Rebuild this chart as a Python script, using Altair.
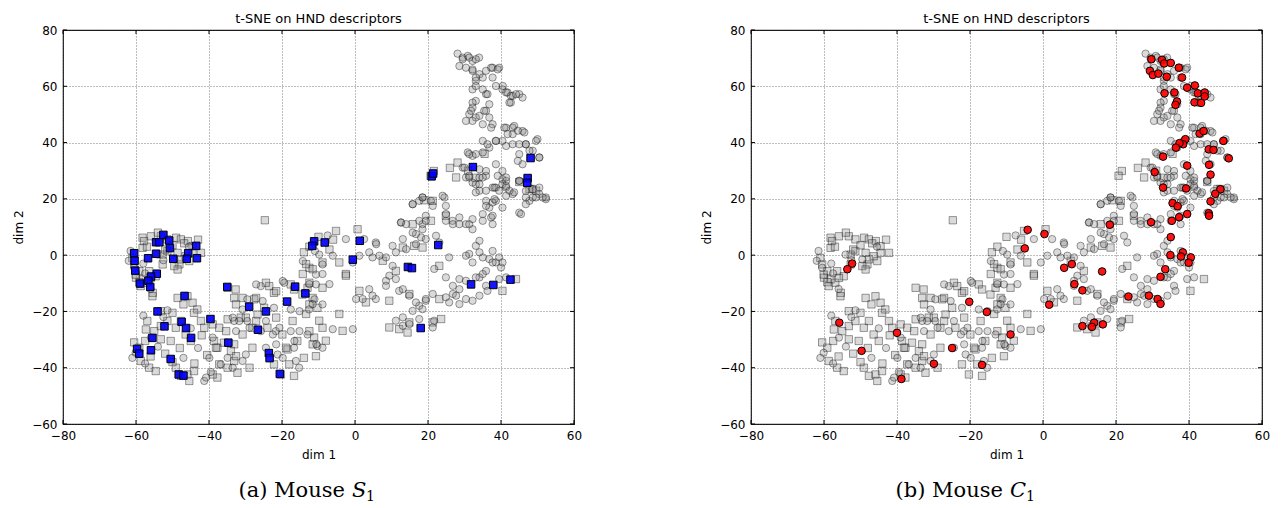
import altair as alt
import pandas as pd

x_ticks = [-80, -60, -40, -20, 0, 20, 40, 60]
y_ticks = [-60, -40, -20, 0, 20, 40, 60, 80]
panel_title = "t-SNE on HND descriptors"

# background embedding points (grey), drawn as squares
bg_squares = [
    [-58.2,6.2],[-55.9,6.7],[-49.0,6.2],[-47.7,5.6],[-45.8,5.0],[-58.2,2.6],[-52.7,0.2],[-48.6,0.8],[-48.1,-3.3],
    [-52.7,-3.3],[-59.1,-5.7],[-58.2,-8.6],[-60.0,-8.0],[-55.4,-13.4],[-49.5,-3.9],[-44.5,0.8],[-57.8,5.0],[-53.2,6.7],
    [-51.4,5.6],[-46.8,4.2],[-44.5,3.2],[-42.2,0.8],[-61.0,-1.0],[-60.5,-3.3],[-60.1,-6.9],[-59.1,-9.6],[-58.7,-11.0],
    [-56.9,-9.8],[-55.5,-14.6],[-51.4,1.4],[-47.7,-1.5],[-45.4,-2.1],[-48.6,-5.1],[-46.4,-0.4],[-56.4,-5.7],[-54.6,-7.5],
    [-55.9,-8.1],[-57.0,3.0],[-50.0,3.5],[-43.0,5.5],[-54.0,8.0],[-52.0,2.0],
    [-48.6,-15.2],[-45.9,-14.6],[-44.5,-16.9],[-43.2,-19.3],[-44.1,-20.5],[-53.2,-19.9],[-56.9,-23.4],[-57.3,-26.4],
    [-55.0,-27.0],[-53.2,-25.2],[-51.4,-23.4],[-49.1,-25.8],[-47.7,-23.4],[-46.4,-28.2],[-45.0,-30.5],[-50.5,-30.5],
    [-53.2,-29.9],[-59.1,-32.9],[-58.7,-37.6],[-56.4,-40.0],[-54.6,-41.2],[-49.1,-40.0],[-47.7,-42.9],[-45.9,-42.4],
    [-44.1,-41.2],[-45.4,-44.7],[-37.7,-43.5],[-42.2,-23.4],[-41.3,-25.8],[-39.0,-24.6],[-38.6,-30.5],[-37.7,-32.9],
    [-35.9,-31.1],[-33.1,-31.7],[-34.0,-34.1],[-47.0,-17.5],[-50.0,-20.5],[-42.0,-28.5],[-52.0,-35.0],[-48.0,-33.0],
    [-57.5,-30.5],[-60.5,-31.0],[-56.0,-36.0],[-50.0,-38.0],[-44.0,-38.5],[-40.5,-35.5],
    [-34.9,-11.6],[-32.7,-12.2],[-33.1,-15.2],[-27.6,-15.7],[-23.5,-11.0],[-22.2,-13.4],[-17.6,-10.4],[-16.7,-12.2],
    [-14.4,-14.0],[-13.0,-11.6],[-11.6,-15.2],[-10.3,-18.7],[-24.9,-18.7],[-26.7,-21.1],[-31.3,-22.2],[-34.9,-22.8],
    [-28.1,-25.8],[-24.0,-25.8],[-19.9,-28.2],[-15.8,-30.5],[-11.2,-29.3],[-18.5,-33.5],[-22.2,-38.8],[-20.3,-42.4],
    [-16.7,-42.9],[-14.0,-36.5],[-10.7,-35.9],[-28.1,-32.9],[-33.1,-37.6],[-34.9,-40.0],[-32.2,-41.8],[-12.5,-4.5],
    [-12.5,-9.8],[-8.9,-11.6],[-12.5,-17.5],[-17.1,-23.4],[-12.5,-27.0],[-8.9,-25.8],[-11.6,-31.7],[-18.9,-32.9],
    [-18.0,-38.8],[-24.4,-9.8],[-21.6,-12.8],[-27.1,-15.2],[-30.8,-15.2],[-32.6,-17.5],[-29.9,-22.2],[-27.1,-23.4],
    [-21.6,-22.2],[-30.8,-28.2],[-35.3,-27.0],[-37.2,-25.8],[-38.1,-32.9],[-37.2,-38.8],[-32.6,-35.9],[-28.9,-40.0],
    [-39.0,-42.4],[-9.8,-23.3],[-4.3,-20.9],[-8.0,-30.4],[-3.4,-26.9],[-13.4,-20.9],[-14.3,-6.7],
    [-13.4,-3.2],[-8.9,-2.6],[-5.2,8.6],[0.7,9.2],[7.6,-2.0],[13.1,2.7],[16.2,3.3],[15.8,11.0],[20.8,12.2],[21.3,19.3],
    [24.9,14.0],[23.1,-3.8],[14.9,-13.8],[3.0,-16.8],[1.2,-12.7],[-2.5,-6.7],[18.5,2.7],[14.9,-23.9],[9.4,-25.7],
    [14.4,-27.5],[23.6,-22.7],[-2.5,-7.3],[-4.3,-2.6],[-11.6,-5.0],[11.2,-5.6],[9.4,-16.2],[21.3,-23.9],[12.1,-26.3],
    [44.1,-8.5],[40.4,-12.7],[23.1,-15.6],[-24.7,12.4],[-12.5,3.0],[-10.0,6.5],[-7.0,2.0],[-6.0,5.5],[-14.0,1.0],
    [28.1,32.9],[27.7,27.6],[33.0,27.5],[48.5,23.5],[45.0,26.0],[21.6,29.9],[20.7,28.2],[19.0,19.5],[47.8,23.5],
    [49.6,22.9],[35.5,36.0],[31.0,30.0],[26.0,31.0],
]

# background embedding points (grey), drawn as circles
bg_circles = [
    [-61.5,1.5],[-60.5,-4.5],[-57.5,-6.5],[-52.5,-1.8],[-54.1,0.2],[-49.5,-1.5],[-45.5,3.0],[-58.0,-3.0],[-62.0,-2.0],
    [-56.0,-12.0],
    [-51.4,-19.6],[-55.9,-29.3],[-60.1,-34.7],[-41.3,-44.7],[-58.0,-21.5],[-54.0,-32.5],[-47.0,-36.5],[-43.0,-33.0],
    [-61.0,-36.5],[-57.5,-38.5],[-39.5,-41.5],[-52.5,-22.0],[-45.0,-26.0],
    [-29.5,-15.7],[-30.8,-19.3],[-25.8,-11.0],[-19.4,-9.8],[-12.6,-19.3],[-17.6,-19.3],[-22.2,-18.7],[-29.5,-23.4],
    [-33.1,-23.4],[-25.8,-27.0],[-21.7,-27.0],[-17.6,-27.0],[-13.0,-28.2],[-16.7,-32.9],[-21.2,-35.3],[-15.3,-40.0],
    [-10.3,-32.3],[-29.9,-35.3],[-36.8,-38.8],[-14.3,-2.1],[-10.7,-6.9],[-8.9,-3.3],[-9.8,0.2],[-10.7,-10.4],
    [-11.1,-15.7],[-8.9,-17.5],[-15.2,-19.9],[-15.2,-27.0],[-8.9,-32.9],[-16.6,-30.5],[-19.8,-36.5],[-16.2,-37.6],
    [-21.6,-31.7],[-24.4,-32.9],[-27.1,-10.4],[-19.8,-9.2],[-25.3,-16.3],[-33.5,-22.2],[-31.7,-23.4],[-28.9,-25.8],
    [-24.4,-23.4],[-20.7,-25.8],[-22.5,-28.2],[-32.6,-27.0],[-39.0,-29.3],[-39.9,-36.5],[-34.9,-36.5],[-30.8,-37.6],
    [-33.5,-40.0],[-40.8,-43.5],[-11.6,-17.4],[-6.1,-26.3],[-0.6,-26.3],[-10.6,-31.6],[-12.5,-10.3],[-7.0,-10.3],
    [-8.9,-6.7],[-11.0,1.5],[-7.5,7.0],
    [-2.5,5.7],[2.5,5.7],[5.7,4.5],[4.8,-0.8],[10.3,3.3],[18.1,6.3],[16.7,7.5],[18.5,11.0],[12.6,11.6],[19.4,14.0],
    [15.8,18.1],[18.5,20.5],[24.5,20.5],[24.9,17.5],[26.7,12.2],[28.6,13.4],[30.4,11.0],[32.2,9.2],[34.1,5.1],
    [33.1,3.3],[31.3,0.4],[32.2,-2.6],[35.0,-0.8],[36.8,-1.4],[38.6,-2.6],[40.0,-4.4],[35.9,-5.6],[34.1,-7.9],
    [30.4,-9.1],[28.6,-12.1],[26.8,-13.8],[24.9,-15.0],[21.3,-13.8],[19.4,-16.2],[17.6,-18.0],[15.8,-19.8],
    [13.1,-22.1],[11.2,-23.3],[14.9,-24.5],[24.9,-7.9],[21.7,-4.9],[25.8,-0.8],[8.5,-9.1],[12.1,-12.7],[5.7,-15.6],
    [0.3,-15.6],[30.4,-0.2],[34.1,1.0],[37.7,1.5],[39.5,-0.8],[40.4,-2.6],[37.7,-2.6],[35.0,-6.7],[33.1,-7.9],
    [28.6,-8.5],[26.8,-10.9],[27.7,-14.4],[25.8,-16.8],[28.6,-17.4],[30.4,-15.6],[32.2,-16.2],[34.1,-14.4],
    [35.9,-10.9],[39.5,-8.5],[41.4,-7.9],[36.3,-12.7],[21.7,-23.3],[21.3,-25.7],[13.1,-25.1],[17.6,-22.7],
    [18.5,-19.2],[16.7,-16.8],[19.4,-15.6],[14.9,-14.4],[13.1,-12.1],[11.2,-8.5],[8.5,-10.9],[9.4,-7.3],[10.3,-3.8],
    [8.5,-0.8],[11.2,1.0],[14.0,2.1],[16.7,3.9],[13.1,5.7],[15.8,8.0],[18.5,9.2],[22.2,6.9],[23.1,4.5],[19.4,5.7],
    [5.8,3.9],[3.9,1.0],[6.7,-0.2],[1.2,-0.2],[-0.6,-2.6],[-6.1,-0.2],[2.1,-15.6],[4.8,-14.4],[3.9,-12.1],
    [36.8,16.9],[38.6,19.3],[40.4,16.9],[37.7,11.0],[37.3,13.4],[35.0,12.2],[40.4,25.2],[43.2,21.7],[46.8,22.8],
    [50.5,21.7],[52.3,19.9],[47.8,19.3],[45.0,15.1],[41.4,24.0],[38.6,24.0],[35.9,19.3],[30.4,27.6],[32.2,25.8],
    [34.1,27.6],[35.9,28.2],[40.4,27.0],
    [28.1,71.6],[29.5,70.2],[30.9,70.8],[32.2,69.0],[34.0,70.2],[28.6,67.2],[30.4,66.6],[32.2,65.5],[34.1,64.3],
    [35.9,65.5],[37.7,66.6],[39.5,66.6],[33.1,61.9],[35.0,63.1],[37.7,63.1],[38.6,60.1],[40.4,58.9],[41.8,57.8],
    [43.2,56.6],[45.0,57.2],[45.9,56.0],[42.7,54.2],[32.2,58.9],[33.1,54.8],[32.2,52.4],[31.3,50.1],[30.4,47.7],
    [33.1,48.9],[35.9,51.3],[36.8,53.6],[35.9,57.2],[35.0,46.5],[37.7,46.5],[41.4,45.3],[43.6,45.9],[45.9,44.1],
    [43.2,43.0],[40.4,40.6],[38.6,40.6],[36.8,38.2],[35.0,36.5],[32.2,35.3],[30.9,36.5],[29.5,31.1],[31.3,27.6],
    [33.1,25.2],[34.1,22.9],[35.9,29.9],[38.6,32.3],[40.4,29.9],[41.4,26.4],[42.3,22.9],[39.5,22.9],[37.7,24.0],
    [45.0,35.9],[46.8,39.4],[50.0,41.2],[48.7,37.1],[50.5,34.7],[45.9,32.3],[45.0,26.4],[48.7,23.4],[50.5,24.0],
    [52.3,20.5],[48.7,20.5],[46.8,18.1],[45.5,14.6],[37.7,18.7],[35.9,17.5],[37.7,14.0],[35.0,14.6],[15.8,18.1],
    [17.6,19.3],[18.5,20.5],[20.8,19.3],[21.3,17.5],[24.0,21.1],[24.9,14.6],[24.9,12.2],[26.8,11.0],[28.6,11.0],
    [31.3,11.0],[32.2,12.8],[12.6,11.6],[14.0,11.0],[17.6,12.2],[19.4,12.2],
    [31.3,70.2],[33.1,69.6],[29.5,69.6],[32.2,66.0],[33.1,63.1],[37.3,66.6],[39.1,66.0],[33.1,60.1],[35.0,58.9],
    [36.3,57.2],[40.5,60.1],[41.4,57.8],[42.7,56.6],[44.1,57.2],[42.3,54.2],[32.2,54.2],[31.8,51.3],[32.2,47.7],
    [34.1,49.5],[35.4,51.3],[36.8,48.9],[37.3,45.3],[40.9,45.3],[43.2,45.3],[44.6,44.2],[46.4,43.6],[41.8,43.0],
    [35.0,40.6],[36.3,39.4],[38.6,40.6],[41.4,38.8],[43.2,39.4],[45.0,39.4],[46.8,39.4],[49.6,40.6],[47.8,37.1],
    [50.5,34.7],[33.1,35.9],[31.3,35.9],[30.0,31.1],[31.3,28.2],[34.1,30.5],[35.0,27.6],[34.1,25.2],[33.1,22.3],
    [35.9,22.9],[38.2,24.0],[39.1,28.2],[41.4,27.6],[41.4,24.6],[41.4,21.1],[44.6,33.5],[45.0,26.4],[49.6,20.5],
    [51.4,20.5],[46.8,20.5],[43.6,22.3],[38.2,19.9],
]

# Mouse S1 (blue squares)
s1_points = [
    [-52.5,7.2],[-54.5,4.6],[-53.6,4.6],[-50.9,5.2],[-50.7,2.5],[-43.5,3.3],[-60.5,0.7],[-60.4,-2.0],[-56.7,-1.1],
    [-54.5,0.5],[-49.8,-1.3],[-45.7,0.7],[-46.1,-1.3],[-43.3,-1.1],[-60.2,-5.5],[-54.3,-6.6],[-55.9,-7.6],[-56.6,-9.1],
    [-58.9,-10.1],[-56.1,-11.3],[-35.0,-11.3],[-46.7,-14.5],[-54.1,-20.0],[-47.5,-23.7],[-52.2,-25.3],[-46.3,-25.9],
    [-39.6,-22.7],[-44.9,-29.4],[-55.5,-29.4],[-59.7,-33.3],[-59.1,-35.0],[-55.9,-33.8],[-50.5,-36.9],[-34.7,-31.1],
    [-48.3,-42.4],[-47.0,-42.8],[-29.0,-18.3],[-24.4,-20.0],[-16.4,-11.2],[-13.6,-13.6],[-18.6,-16.5],[-26.6,-26.5],
    [-23.6,-34.8],[-23.4,-36.6],[-20.6,-42.2],[-11.2,4.9],[-8.3,4.5],[-11.7,3.3],[21.0,28.0],[21.4,29.0],[47.3,27.4],
    [47.2,25.7],[1.3,5.1],[-0.6,-1.6],[22.8,3.6],[14.5,-4.2],[15.6,-4.6],[31.8,-10.4],[37.9,-10.6],[42.6,-8.7],
    [18.0,-25.9],[48.1,34.5],[32.3,31.3],
]

# Mouse C1 (red circles)
c1_points = [
    [29.7,69.6],[32.6,69.4],[33.2,68.1],[35.0,68.3],[37.2,66.6],[29.3,65.5],[30.1,64.0],[31.6,64.5],[33.9,63.4],
    [38.1,63.1],[39.5,59.5],[41.6,60.3],[33.3,57.5],[36.0,57.8],[36.7,54.6],[36.3,53.4],[42.4,57.5],[44.3,57.8],
    [44.3,56.4],[41.5,54.3],[43.3,54.1],[42.9,43.2],[44.0,44.1],[39.0,41.2],[38.4,39.4],[37.4,39.8],[36.4,38.2],
    [49.4,40.6],[45.4,37.6],[46.7,37.4],[50.9,34.4],[32.9,35.0],[39.5,31.8],[45.5,32.1],[30.6,29.5],[45.9,28.6],
    [32.9,24.0],[39.2,23.7],[48.6,23.4],[47.2,21.8],[45.9,19.1],[35.5,18.5],[36.9,17.4],[45.4,14.9],[45.5,14.0],
    [39.5,14.6],[37.3,13.5],[35.3,12.2],[29.6,11.7],[18.3,10.8],[-4.2,9.0],[0.4,7.5],[-5.0,2.4],[35.0,6.4],[34.9,0.0],
    [38.3,1.0],[37.8,-0.5],[40.5,-0.8],[39.9,-2.7],[33.5,-5.0],[32.2,-7.7],[5.8,-4.5],[7.9,-3.2],[16.2,-5.8],
    [8.6,-10.3],[10.8,-12.5],[1.7,-17.6],[23.4,-14.7],[29.0,-14.4],[31.4,-15.6],[32.2,-17.3],[10.8,-25.2],
    [14.0,-24.0],[13.4,-25.5],[16.4,-24.6],[-8.9,-28.2],[-52.3,-3.0],[-53.6,-5.0],[-55.8,-24.0],[-40.0,-27.6],
    [-49.7,-34.0],[-38.8,-44.0],[-20.2,-16.6],[-15.4,-20.2],[-24.9,-33.0],[-29.9,-38.6],[-16.7,-39.0],
]

W, H = 511, 394


def df(points):
    return pd.DataFrame(points, columns=["x", "y"])


xs = alt.Scale(domain=[-80, 60], nice=False, zero=False)
ys = alt.Scale(domain=[-60, 80], nice=False, zero=False)
X = alt.X("x:Q", scale=xs, axis=alt.Axis(values=x_ticks, title="dim 1", titlePadding=8, labelFlush=False))
Y = alt.Y("y:Q", scale=ys, axis=alt.Axis(values=y_ticks, title="dim 2", titlePadding=6, labelFlush=False))


def panel(points, shape, color, letter, var, cap_x, var_w):
    grey_sq = alt.Chart(df(bg_squares)).mark_square(
        size=54, fill="#808080", fillOpacity=0.29, stroke="#000", strokeOpacity=0.38, strokeWidth=1
    ).encode(x=X, y=Y)
    grey_ci = alt.Chart(df(bg_circles)).mark_circle(
        size=54, fill="#808080", fillOpacity=0.29, stroke="#000", strokeOpacity=0.38, strokeWidth=1
    ).encode(x=X, y=Y)
    if shape == "square":
        hl = alt.Chart(df(points)).mark_square(
            size=56, fill=color, fillOpacity=0.92, stroke="#000", strokeWidth=1, opacity=1
        ).encode(x=X, y=Y)
    else:
        hl = alt.Chart(df(points)).mark_circle(
            size=58, fill=color, fillOpacity=0.92, stroke="#000", strokeWidth=1, opacity=1
        ).encode(x=X, y=Y)
    tx = pd.DataFrame({"x": x_ticks})
    ty = pd.DataFrame({"y": y_ticks})
    tick_b = alt.Chart(tx).mark_rule(color="#000", strokeWidth=1).encode(x=X, y=alt.value(H), y2=alt.value(H - 4))
    tick_t = alt.Chart(tx).mark_rule(color="#000", strokeWidth=1).encode(x=X, y=alt.value(0), y2=alt.value(4))
    tick_l = alt.Chart(ty).mark_rule(color="#000", strokeWidth=1).encode(y=Y, x=alt.value(0), x2=alt.value(4))
    tick_r = alt.Chart(ty).mark_rule(color="#000", strokeWidth=1).encode(y=Y, x=alt.value(W), x2=alt.value(W - 4))
    cap_y = 467
    cap1 = alt.Chart(pd.DataFrame({"t": [f"({letter}) Mouse"]})).mark_text(
        font="DejaVu Serif", fontSize=21, align="right", baseline="alphabetic", color="#000"
    ).encode(text="t:N", x=alt.value(cap_x), y=alt.value(cap_y))
    cap2 = alt.Chart(pd.DataFrame({"t": [var]})).mark_text(
        font="DejaVu Serif", fontSize=21, fontStyle="italic", align="left", baseline="alphabetic", color="#000"
    ).encode(text="t:N", x=alt.value(cap_x + 7), y=alt.value(cap_y))
    cap3 = alt.Chart(pd.DataFrame({"t": ["1"]})).mark_text(
        font="DejaVu Serif", fontSize=14, align="left", baseline="alphabetic", color="#000"
    ).encode(text="t:N", x=alt.value(cap_x + 7 + var_w), y=alt.value(cap_y + 4))
    return alt.layer(grey_sq, grey_ci, hl, tick_b, tick_t, tick_l, tick_r, cap1, cap2, cap3).properties(
        width=W, height=H, title=alt.TitleParams(panel_title, offset=-2)
    )


left = panel(s1_points, "square", "#0000ff", "a", "S", 282, 14)
right = panel(c1_points, "circle", "#ff0000", "b", "C", 252, 16)

chart = (
    alt.hconcat(left, right, spacing=117)
    .properties(padding={"left": 12, "top": 12, "right": 5, "bottom": 5}, background="white")
    .configure_view(stroke="#222", strokeWidth=1.2)
    .configure_axis(
        labelFont="DejaVu Sans", labelFontSize=12, labelColor="#000",
        titleFont="DejaVu Sans", titleFontSize=12, titleFontWeight="normal", titleColor="#000",
        ticks=False, domain=False, grid=True, gridColor="#000", gridDash=[1, 2], gridOpacity=0.75,
        gridWidth=0.7, labelPadding=6,
    )
    .configure_title(font="DejaVu Sans", fontSize=13, fontWeight="normal", color="#000")
)

chart.save("out.html", embed_options={"renderer": "svg", "actions": False})
